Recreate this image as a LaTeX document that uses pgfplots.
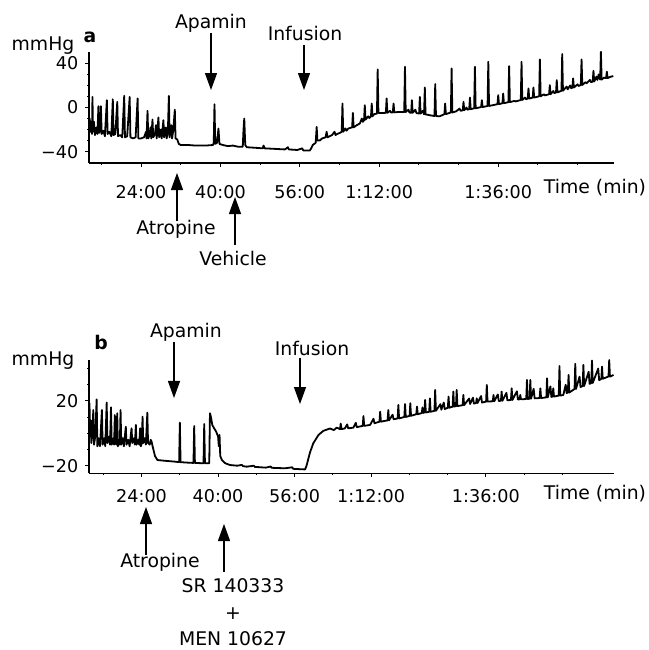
\documentclass[border=0pt]{standalone}
\usepackage{fontspec}
\setmainfont{DejaVu Sans}
\usepackage{pgfplots}
\pgfplotsset{compat=1.18}
\usetikzlibrary{arrows.meta}
\newcommand\ann{\fontsize{9.4}{11}\selectfont}
\newcommand\tck{\fontsize{8.8}{10}\selectfont}

\pgfplotsset{
  trace/.style={
    scale only axis,
    axis x line=bottom, axis y line=left,
    axis line style={-, line width=0.6pt},
    tick align=outside,
    major tick length=1.8pt, minor tick length=1pt,
    tick style={black, line width=0.5pt},
    xtick={24,40,56,72,96},
    xticklabels={24:00,40:00,56:00,1:12:00,1:36:00},
    minor xtick={16,32,48,64,80,88,104,112},
    ticklabel style={font=\tck},
  }
}

\begin{document}
\begin{tikzpicture}
\useasboundingbox (0,0) rectangle (324.5pt,325pt);

% panel a
\begin{axis}[trace,
  at={(44.5pt,243.5pt)}, anchor=south west,
  width=262.65pt, height=55.65pt,
  xmin=13.5, xmax=119.4, ymin=-50.3, ymax=50.6,
  ytick={-40,0,40}, yticklabels={−40,0,40},
  minor ytick={-30,-20,-10,10,20,30},
  xticklabel style={yshift=-6pt},
]
\addplot[black, line width=0.9pt, mark=none, line join=round] coordinates {
(13.55,-20) (13.65,-10) (13.8,-22) (13.95,-15) (14.1,-24) (14.2,9.6) (14.3,-22) (14.5,-13) (14.7,-25) (15.0,-18) (15.2,-24) (15.4,1.2) (15.55,-23) (15.7,-20) (15.9,1.2) (16.05,-24) (16.4,-21) (16.7,-26) (17.1,6.6) (17.25,-24) (17.6,-22) (18.0,-26) (18.3,7.5) (18.45,-25) (18.8,-24) (19.2,5.1) (19.35,-26) (19.8,-25) (20.2,-27) (20.6,10.6) (20.75,-27) (21.2,-26) (21.7,9.6) (21.85,-27) (22.4,-28) (22.9,-27) (23.3,8.2) (23.45,-28) (24.0,-28) (24.6,-27) (25.0,-22) (25.1,-28) (25.3,-3) (25.45,-28) (25.7,-25) (25.9,-18) (26.05,-28) (26.3,-11) (26.45,-27) (26.8,-24) (27.0,-16) (27.15,-28) (27.5,-9) (27.65,-27) (28.0,-20) (28.15,-28) (28.5,-11.5) (28.65,-27) (29.0,-18) (29.15,-28) (29.4,-22) (29.6,10.6) (29.75,-27) (30.1,-16) (30.25,-28) (30.5,-20) (30.8,-2) (30.95,-28) (31.3,-29) (31.6,-33) (32,-34)
(33.5,-34) (35,-34.5) (37,-34.5) (38.5,-34) (38.65,-32) (38.8,3) (38.95,-33) (39.3,-32) (39.6,-19) (39.8,-33) (40.5,-34) (41.5,-35) (42.5,-34.5) (43.5,-35.5) (44.5,-35.5) (44.65,-20) (44.8,-10) (45.0,-34) (45.3,-36) (47,-36.5) (48.5,-37) (48.7,-34.5) (48.9,-37) (51,-37.5) (53,-38) (53.6,-36) (53.8,-38) (55.5,-38.5) (56.5,-37) (56.7,-39) (58,-39)
(58.3,-37) (58.6,-34) (59.2,-32) (59.4,-17.6) (59.55,-30) (60.1,-29.7) (60.5,-28) (61.2,-27) (61.4,-22) (61.6,-27) (62.5,-25) (63.0,-22) (63.2,-25) (63.5,-24) (64.1,-23) (64.45,-22) (64.6,3.6) (64.75,-22) (65.2,-19) (65.4,-21) (65.8,-19) (66.55,-18) (66.7,-4.9) (66.85,-18) (67.5,-16) (68.1,-14.5) (68.5,-10) (68.7,-13) (68.95,-11.5) (69.1,2.1) (69.25,-11) (69.8,-8) (70.0,-9.5) (70.35,-8) (70.5,3.6) (70.65,-8) (71.0,-6) (71.55,-5.5) (71.7,34.5) (71.85,-5) (72.5,-5)
(73.35,-4.8) (73.5,8.2) (73.65,-4.8) (74.2,-3) (74.4,-4.6) (74.75,-4.4) (74.9,3.6) (75.05,-4.4) (76,-4) (77.05,-4.1) (77.2,36.9) (77.35,-4.1) (77.9,-2) (78.1,-4.5) (78.45,-4.8) (78.6,6.6) (78.75,-4.8) (79.3,-2) (79.5,-5) (80.05,-5.5) (80.2,9.6) (80.35,-5.5) (80.8,-3) (81.05,-6.2) (81.2,18.2) (81.35,-6.2) (82.2,-7) (83.15,-7.7) (83.3,21.2) (83.45,-7.7) (84.2,-8) (85.15,-6) (85.3,3.6) (85.45,-6) (86.45,-4.5) (86.6,35.4) (86.75,-4.5) (87.5,-3.5) (88.2,-1) (88.4,-3) (88.85,-2.5) (89,5.1) (89.15,-2.5) (89.6,0) (89.8,-2) (90.15,-1.5) (90.3,9) (90.45,-1.5) (91.15,-0.7) (91.3,36.9) (91.45,-0.7) (92.55,0.4) (92.7,6.6) (92.85,0.4) (93.85,1.4) (94,41.5) (94.15,1.4) (95,2.2)
(95.85,3) (96,11.2) (96.15,3) (96.85,3.9) (97,12.7) (97.15,3.9) (98.05,4.9) (98.2,37.5) (98.35,4.9) (99.3,6) (99.5,5.5) (100.55,6.8) (100.7,41.5) (100.85,6.8) (101.4,9) (101.6,7.5) (101.95,8.1) (102.1,17.3) (102.25,8.1) (102.95,9) (103.1,18.2) (103.25,9) (104.25,10.2) (104.4,43.6) (104.55,10.2) (105.2,12) (105.4,11) (106.25,12) (106.4,20.3) (106.55,12) (107.1,15) (107.3,13) (107.65,13.7) (107.8,24.8) (107.95,13.7) (108.75,15.2) (108.9,48.5) (109.05,15.2) (109.8,19) (110.0,16.5) (110.5,20) (110.7,17.5) (110.95,18.1) (111.1,26.4) (111.25,18.1) (112.0,21) (112.2,19.5) (112.65,20.4) (112.8,43.6) (112.95,20.4) (113.6,23) (113.8,22) (114.5,25) (114.7,23) (115.05,23.5) (115.2,33.3) (115.35,23.5) (115.8,28) (116.0,25) (116.25,30) (116.55,25.3) (116.7,50.5) (116.85,25.3) (117.3,27) (117.75,26.7) (117.9,32.4) (118.05,26.7) (118.6,27.8) (119.2,28.5)
};
\end{axis}

% panel b
\begin{axis}[trace,
  at={(44.5pt,88.35pt)}, anchor=south west,
  width=262.5pt, height=56.65pt,
  xmin=13, xmax=122.8, ymin=-24.7, ymax=45.3,
  ytick={-20,20}, yticklabels={−20,20},
  minor ytick={-10,0,10,30,40},
  xticklabel style={yshift=-2.5pt},
]
\addplot[black, line width=0.9pt, mark=none, line join=round] coordinates {
(13.05,10) (13.1,18.6) (13.25,-2) (13.4,8) (13.5,-6) (13.7,0) (13.9,14.4) (14.05,-7) (14.3,-2) (14.6,21.0) (14.75,-8) (15.0,-3) (15.3,-8) (15.7,14.4) (15.85,-7) (16.2,-3) (16.4,-8) (16.7,19) (16.85,-6) (17.2,-2) (17.4,-7) (17.6,16.1) (17.75,-7) (18.1,-3) (18.25,-7) (18.4,11.3) (18.55,-6) (18.75,-7) (18.9,12.4) (19.05,-8) (19.3,-4) (19.45,-7) (19.6,14.4) (19.75,-7) (20.1,-3) (20.3,-8) (20.7,4.1) (20.85,-7) (21.2,-4) (21.5,-8) (21.9,3.1) (22.05,-6) (22.4,-3) (22.6,-7) (22.8,5.2) (22.95,-7) (23.3,-4) (23.5,-7) (23.7,3.1) (23.85,-8) (24.05,-6) (24.2,10.3) (24.35,-6) (24.7,-3) (24.9,-7) (25.2,12.8) (25.35,-6) (25.7,-7) (25.9,-4) (26.1,-5.2) (26.3,-8) (26.8,-14) (27.3,-16.5)
(29,-17) (31,-17.5) (31.85,-17.8) (32,6.6) (32.15,-17.8) (33,-18) (34.85,-18.3) (35,4.5) (35.15,-18.3) (36,-18.4) (36.95,-18.5) (37.1,5.8) (37.25,-18.5) (38.15,-18.5) (38.3,12.4) (38.5,10) (38.8,5) (39.2,3) (39.6,1) (40.0,-2) (40.15,-8) (40.3,-1) (40.45,-14) (40.8,-16.5) (41.5,-18.5) (42.5,-19.6) (44,-20) (45,-19.5) (45.2,-20.3) (46,-20.6) (47.5,-20) (47.7,-20.8) (48,-20.8) (50,-21.2) (51,-20.5) (51.2,-21.3) (52,-21.4) (54,-21.6) (55.5,-21) (55.7,-21.9) (56,-22) (58.2,-22.3)
(58.5,-20) (59.2,-12) (59.9,-6.2) (61,-1) (62,1.5) (63.4,3) (64.2,2) (64.8,3.5) (65.5,2.6) (65.65,6) (65.8,2.6) (66.5,3) (67,5.5) (67.2,3.1) (68.3,3.5) (68.8,6.5) (69,3.8) (70.25,4.6) (70.4,10.7) (70.55,4.6) (71.8,5.2) (72.5,9) (72.7,6.2) (73.75,7.2) (73.9,13.4) (74.05,7.2) (75.45,8) (75.6,14.4) (75.75,8) (76.5,11.5) (76.7,8.7) (77.55,9.2) (77.7,17.5) (77.85,9.2) (78.95,10.1) (79.1,18.1) (79.25,10.1) (80.05,10.8) (80.2,18.6) (80.35,10.8) (81.45,11.8) (81.6,16.5) (81.75,11.8) (82.6,12.5) (82.75,16) (82.9,12.6) (83.15,12.9) (83.3,20.6) (83.45,12.9) (84.15,13.3) (84.3,21.6) (84.45,13.3) (85.25,13.9) (85.4,26.8) (85.55,13.9) (86.5,18) (86.7,14.6) (87.2,19) (87.4,15) (88.05,15.8) (88.2,22.7) (88.35,15.8) (89.05,16.5) (89.2,25.8) (89.35,16.5) (89.75,16.8) (89.9,26.8) (90.05,16.8) (91.15,17.4) (91.3,23.7) (91.45,17.4)
(92.5,21.5) (92.7,18.1) (93.3,22) (93.5,18.4) (93.95,18.7) (94.1,21.6) (94.25,18.7) (95,23) (95.2,19) (96.05,19.6) (96.2,29.9) (96.35,19.6) (97.45,19.8) (97.6,23.7) (97.75,19.8) (98.5,24) (98.7,20) (99.15,20.1) (99.3,25.8) (99.45,20.1) (100.3,25) (100.5,20.4) (101.25,20.6) (101.4,27.8) (101.55,20.6) (102.5,26) (102.7,20.9) (103.05,21) (103.2,23.7) (103.35,21) (104.45,21.2) (104.6,33) (104.75,21.2) (105.15,21.4) (105.3,33) (105.45,21.4) (106,27.5) (106.2,21.6) (107.25,21.8) (107.4,27.8) (107.55,21.8) (108.65,22.2) (108.8,34) (108.95,22.2) (109.5,29) (109.7,22.5) (109.95,22.7) (110.1,27.8) (110.25,22.7) (111.25,23.3) (111.4,41.6) (111.55,23.3) (112.2,23.7) (112.7,30) (112.9,24.8) (113.15,25.2) (113.3,36.1) (113.45,25.2) (114.55,27.4) (114.7,42.9) (114.85,27.4) (115.6,35) (115.8,28.6) (116.25,29.2) (116.4,42.3) (116.55,29.2) (117.5,38) (117.7,30.5) (118.05,31.1) (118.2,44.9) (118.35,31.1) (119.5,40) (119.7,32.8) (120.15,33.7) (120.3,41.2) (120.45,33.7) (121.65,35.1) (121.8,45.3) (121.95,35) (122.3,35.5) (122.7,36.1)
};
\end{axis}

% annotations, in picture pixels (origin top left)
\begin{scope}[x=0.5pt, y=-0.5pt, yshift=325pt, font=\ann,
  arr/.style={-{Triangle[length=8.5pt,width=6pt]}, line width=0.6pt}]
  % panel a
  \node[anchor=base] at (43,50) {mmHg};
  \node[anchor=base] at (90,42) {\textbf{a}};
  \node at (211,23) {Apamin};
  \draw[arr] (211,33) -- (211,90);
  \node at (305,33) {Infusion};
  \draw[arr] (304,45) -- (304,90);
  \draw[arr] (177,221) -- (177,173);
  \node at (176,229) {Atropine};
  \draw[arr] (235,245) -- (235,197);
  \node at (233,258) {Vehicle};
  \node at (595,188) {Time (min)};
  % panel b
  \node[anchor=base] at (43,365.5) {mmHg};
  \node[anchor=base] at (101,350) {\textbf{b}};
  \node at (186,332) {Apamin};
  \draw[arr] (174,342) -- (174,398);
  \node at (312,348) {Infusion};
  \draw[arr] (300,358) -- (300,404);
  \draw[arr] (146,555) -- (146,507);
  \node at (160,562) {Atropine};
  \draw[arr] (224,572) -- (224,524);
  \node at (233,586) {SR 140333};
  \node at (233,614) {+};
  \node at (233,639) {MEN 10627};
  \node at (595,494) {Time (min)};
\end{scope}
\end{tikzpicture}
\end{document}
